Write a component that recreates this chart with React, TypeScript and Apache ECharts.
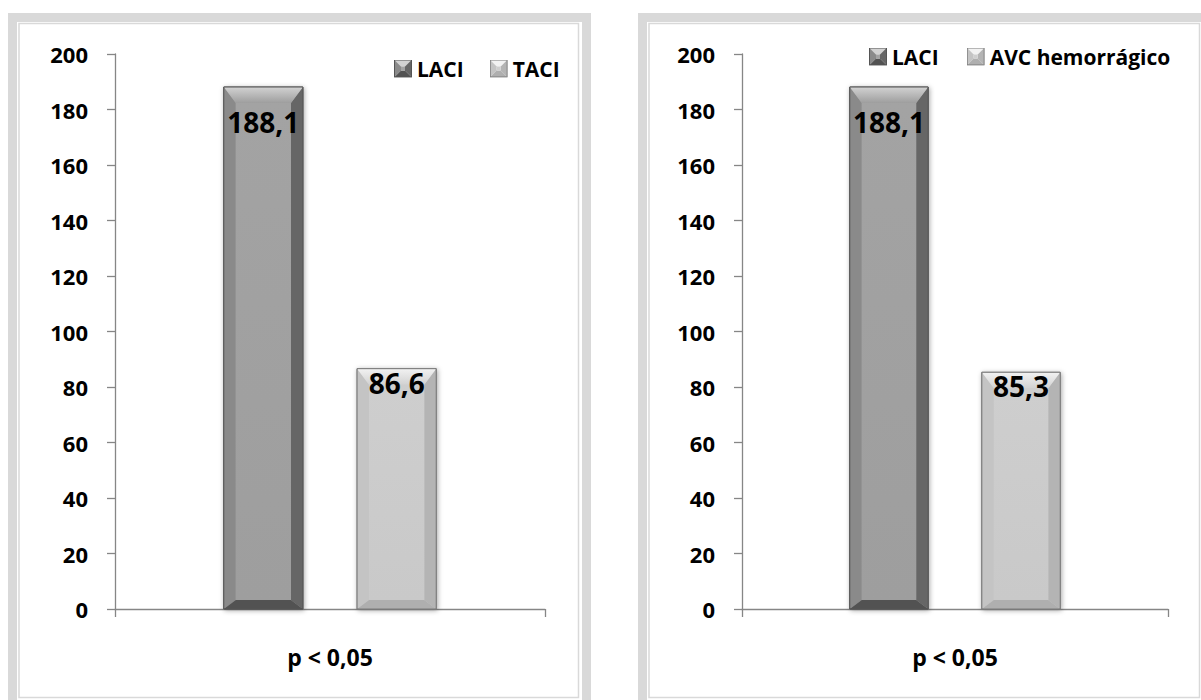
import React, { useEffect, useRef } from "react";
import * as echarts from "echarts";

// Single category shared by both panels
const categories = ["p < 0,05"];

// Left panel: LACI vs TACI
const leftNames = ["LACI", "TACI"];
const leftValues = [188.1, 86.6];

// Right panel: LACI vs haemorrhagic stroke
const rightNames = ["LACI", "AVC hemorrágico"];
const rightValues = [188.1, 85.3];

// Value axis range
const yMin = 0;
const yMax = 200;
const yStep = 20;

const FONT = "'Open Sans', Lato, sans-serif";

type Palette = {
  top: [string, string];
  left: string;
  right: string;
  bottom: string;
  face: [string, string];
  edge: string;
};

const darkBar: Palette = {
  top: ["#d2d2d2", "#9e9e9e"],
  left: "#8a8a8a",
  right: "#666666",
  bottom: "#525252",
  face: ["#a3a3a3", "#9e9e9e"],
  edge: "#555555",
};

const lightBar: Palette = {
  top: ["#f2f2f2", "#d2d2d2"],
  left: "#c4c4c4",
  right: "#b4b4b4",
  bottom: "#afafaf",
  face: ["#cecece", "#c9c9c9"],
  edge: "#7a7a7a",
};

const palettes = [darkBar, lightBar];
// distance from bar top to the centre of its value label
const labelDrop = [35, 14];

const fmt = (v: number) => v.toFixed(1).replace(".", ",");

// bevelled square used as legend marker
function bevelIcon(p: Palette) {
  const svg =
    `<svg xmlns="http://www.w3.org/2000/svg" width="18" height="18" viewBox="0 0 18 18">` +
    `<polygon points="0,0 18,0 11,7 7,7" fill="${p.top[0]}"/>` +
    `<polygon points="0,0 7,7 7,11 0,18" fill="${p.left}"/>` +
    `<polygon points="18,0 18,18 11,11 11,7" fill="${p.right}"/>` +
    `<polygon points="0,18 7,11 11,11 18,18" fill="${p.bottom}"/>` +
    `<rect x="7" y="7" width="4" height="4" fill="${p.face[0]}"/>` +
    `<rect x="0.5" y="0.5" width="17" height="17" fill="none" stroke="${p.edge}" stroke-width="1"/>` +
    `</svg>`;
  return "image://data:image/svg+xml;charset=utf-8," + encodeURIComponent(svg);
}

function bevelSeries(name: string, value: number, slot: number, gridIndex: number) {
  const pal = palettes[slot];
  return {
    type: "custom",
    name,
    xAxisIndex: gridIndex,
    yAxisIndex: gridIndex,
    itemStyle: { color: pal.face[0] },
    data: [[0, value]],
    encode: { x: 0, y: 1 },
    renderItem: (params: any, api: any) => {
      const cat = api.value(0);
      const val = api.value(1);
      const base = api.coord([cat, 0]);
      const top = api.coord([cat, val]);
      const band = api.size([1, 0])[0];
      const barW = band * 0.184;
      const off = band * 0.155 * (slot === 0 ? -1 : 1);
      const x0 = base[0] + off - barW / 2;
      const x1 = x0 + barW;
      const y0 = top[1];
      const y1 = base[1];
      const bx = 12;
      const bt = 16;
      const bb = 9;
      const children: any[] = [
        {
          type: "rect",
          shape: { x: x0, y: y0, width: barW, height: y1 - y0 },
          style: {
            fill: pal.face[0],
            stroke: pal.edge,
            lineWidth: 1,
            shadowBlur: 5,
            shadowColor: "rgba(0,0,0,0.35)",
            shadowOffsetX: 1,
            shadowOffsetY: 1,
          },
        },
        {
          type: "polygon",
          shape: { points: [[x0, y0], [x0 + bx, y0 + bt], [x0 + bx, y1 - bb], [x0, y1]] },
          style: { fill: pal.left },
        },
        {
          type: "polygon",
          shape: { points: [[x1, y0], [x1, y1], [x1 - bx, y1 - bb], [x1 - bx, y0 + bt]] },
          style: { fill: pal.right },
        },
        {
          type: "polygon",
          shape: { points: [[x0, y1], [x0 + bx, y1 - bb], [x1 - bx, y1 - bb], [x1, y1]] },
          style: { fill: pal.bottom },
        },
        {
          type: "polygon",
          shape: { points: [[x0, y0], [x1, y0], [x1 - bx, y0 + bt], [x0 + bx, y0 + bt]] },
          style: {
            fill: new echarts.graphic.LinearGradient(0, 0, 0, 1, [
              { offset: 0, color: pal.top[0] },
              { offset: 1, color: pal.top[1] },
            ]),
          },
        },
        {
          type: "rect",
          shape: { x: x0 + bx, y: y0 + bt, width: barW - 2 * bx, height: y1 - y0 - bt - bb },
          style: {
            fill: new echarts.graphic.LinearGradient(0, 0, 0, 1, [
              { offset: 0, color: pal.face[0] },
              { offset: 1, color: pal.face[1] },
            ]),
          },
        },
        {
          type: "rect",
          shape: { x: x0, y: y0, width: barW, height: y1 - y0 },
          style: { fill: "none", stroke: pal.edge, lineWidth: 1 },
        },
        {
          type: "text",
          style: {
            text: fmt(val),
            x: (x0 + x1) / 2,
            y: y0 + labelDrop[slot],
            align: "center",
            verticalAlign: "middle",
            fontSize: 28,
            fontWeight: "bold",
            fontFamily: FONT,
            fill: "#000",
          },
        },
      ];
      return { type: "group", children };
    },
  };
}

const axisLineStyle = { color: "#868686", width: 1.3 };

function xAxisFor(gridIndex: number) {
  return {
    type: "category",
    gridIndex,
    data: categories,
    boundaryGap: true,
    axisLine: { lineStyle: axisLineStyle },
    axisTick: { show: true, length: 8, lineStyle: axisLineStyle },
    axisLabel: {
      margin: 36,
      fontSize: 23,
      fontWeight: "bold",
      fontFamily: FONT,
      color: "#000",
    },
  };
}

function yAxisFor(gridIndex: number) {
  return {
    type: "value",
    gridIndex,
    min: yMin,
    max: yMax,
    interval: yStep,
    splitLine: { show: false },
    axisLine: { show: true, lineStyle: axisLineStyle },
    axisTick: { show: true, length: 8, lineStyle: axisLineStyle },
    axisLabel: {
      margin: 27,
      fontSize: 22,
      fontWeight: "bold",
      fontFamily: FONT,
      color: "#000",
    },
  };
}

function legendFor(names: string[], left: number, top: number, gap: number) {
  return {
    left,
    top,
    data: names.map((n, i) => ({ name: n, icon: bevelIcon(palettes[i]) })),
    itemWidth: 18,
    itemHeight: 18,
    itemGap: gap,
    selectedMode: false,
    textStyle: { fontSize: 21, fontWeight: "bold", fontFamily: FONT, color: "#000" },
  };
}

function frame(x0: number, x1: number) {
  return {
    type: "rect",
    shape: { x: x0 + 4.5, y: 17.5, width: x1 - x0 - 9, height: 720 },
    style: { fill: "none", stroke: "#d9d9d9", lineWidth: 9 },
    silent: true,
  };
}

function innerLine(x0: number, x1: number) {
  return {
    type: "rect",
    shape: { x: x0, y: 23.5, width: x1 - x0, height: 674 },
    style: { fill: "none", stroke: "#d9d9d9", lineWidth: 1.5 },
    silent: true,
  };
}

export default function App() {
  const ref = useRef<HTMLDivElement>(null);

  useEffect(() => {
    if (!ref.current) return;
    const chart = echarts.init(ref.current, undefined, { renderer: "svg" });
    chart.setOption({
      animation: false,
      backgroundColor: "#ffffff",
      grid: [
        { left: 115, top: 54, width: 430, height: 555 },
        { left: 742, top: 54, width: 426, height: 555 },
      ],
      xAxis: [xAxisFor(0), xAxisFor(1)],
      yAxis: [yAxisFor(0), yAxisFor(1)],
      legend: [legendFor(leftNames, 389, 53, 26), legendFor(rightNames, 864, 41, 28)],
      graphic: [
        frame(8, 591),
        innerLine(19, 578.5),
        frame(638, 1211),
        innerLine(649, 1199.5),
      ],
      series: [
        ...leftNames.map((n, i) => bevelSeries(n, leftValues[i], i, 0)),
        ...rightNames.map((n, i) => bevelSeries(n, rightValues[i], i, 1)),
      ],
    });
    return () => chart.dispose();
  }, []);

  return (
    <div
      ref={ref}
      style={{ position: "absolute", left: 0, top: 0, width: 1201, height: 700 }}
    />
  );
}
